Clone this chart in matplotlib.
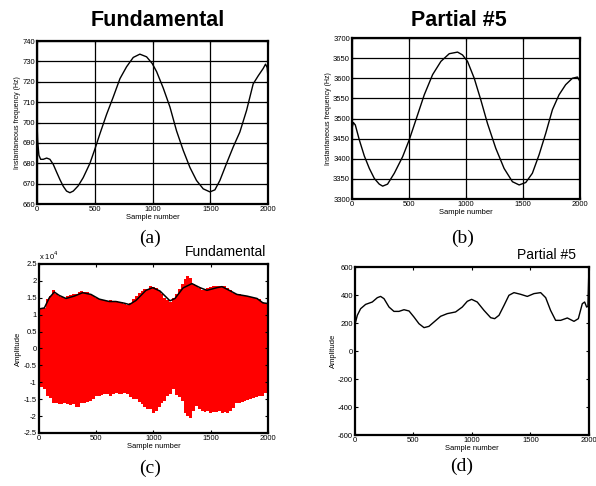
import numpy as np
import matplotlib
matplotlib.use("Agg")
import matplotlib.pyplot as plt

plt.rcParams['font.family'] = ['Liberation Sans', 'DejaVu Sans']
plt.rcParams['axes.unicode_minus'] = False

# (a) fundamental instantaneous frequency
fa_x = [0, 6, 17, 32, 55, 84, 112, 141, 170, 199, 228, 256, 285, 314, 357, 400, 458, 501, 545,
        602, 660, 718, 775, 833, 890, 948, 997, 1035, 1092, 1150, 1207, 1265, 1323, 1380, 1438,
        1496, 1539, 1582, 1640, 1697, 1755, 1813, 1870, 1914, 1957, 1977, 1991, 2000]
fa_y = [701, 691, 684, 682, 682, 682.6, 682, 679.5, 675.7, 672, 668.7, 666.4, 665.6, 666.4, 669,
        673, 680, 687, 694.6, 704, 712.6, 721.6, 727.4, 732, 733.6, 732.3, 729, 725, 717, 707.7,
        696, 686.4, 678, 671.6, 667.5, 666, 667, 671.6, 680, 688, 695.4, 706, 719, 723, 726.6,
        728.7, 727, 721]

# (b) partial #5 instantaneous frequency
fb_x = [0, 12, 29, 64, 108, 152, 196, 239, 269, 312, 371, 444, 502, 561, 634, 707, 780, 853, 926,
        969, 1013, 1072, 1130, 1188, 1261, 1334, 1407, 1466, 1524, 1582, 1641, 1699, 1758, 1816,
        1874, 1933, 1977, 2000]
fb_y = [3476, 3490, 3484, 3447, 3407, 3376, 3351, 3337, 3332, 3337, 3364, 3405, 3447, 3497, 3559,
        3609, 3642, 3661, 3665, 3658, 3642, 3600, 3546, 3488, 3426, 3376, 3343, 3335, 3341, 3364,
        3410, 3463, 3522, 3559, 3584, 3600, 3603, 3592]

# (c) fundamental amplitude (x 1e4): red signal extent every 25 samples, black envelope
sig_x = np.arange(0, 2001, 25)
sig_hi = [1.15, 1.18, 1.2, 1.45, 1.55, 1.72, 1.62, 1.55, 1.52, 1.5, 1.55, 1.58, 1.6, 1.62, 1.68,
          1.7, 1.66, 1.68, 1.62, 1.55, 1.5, 1.46, 1.44, 1.42, 1.4, 1.42, 1.4, 1.4, 1.38, 1.37,
          1.33, 1.3, 1.35, 1.45, 1.55, 1.65, 1.7, 1.75, 1.77, 1.85, 1.82, 1.78, 1.7, 1.6, 1.5,
          1.42, 1.38, 1.5, 1.6, 1.75, 1.9, 2.05, 2.15, 2.1, 1.9, 1.85, 1.78, 1.74, 1.75, 1.8,
          1.82, 1.85, 1.86, 1.84, 1.86, 1.85, 1.8, 1.72, 1.65, 1.62, 1.6, 1.58, 1.56, 1.55, 1.53,
          1.5, 1.48, 1.45, 1.38, 1.35, 1.33]
sig_lo = [-1.1, -1.15, -1.2, -1.42, -1.47, -1.6, -1.62, -1.63, -1.65, -1.62, -1.63, -1.66, -1.65,
          -1.74, -1.72, -1.62, -1.6, -1.57, -1.55, -1.5, -1.42, -1.4, -1.38, -1.36, -1.35, -1.4,
          -1.36, -1.33, -1.36, -1.34, -1.33, -1.35, -1.45, -1.48, -1.5, -1.58, -1.65, -1.72,
          -1.78, -1.8, -1.9, -1.85, -1.72, -1.6, -1.55, -1.42, -1.35, -1.2, -1.38, -1.45, -1.55,
          -1.9, -2.0, -2.07, -1.85, -1.7, -1.8, -1.85, -1.88, -1.85, -1.9, -1.87, -1.88, -1.85,
          -1.9, -1.88, -1.9, -1.85, -1.75, -1.62, -1.6, -1.58, -1.55, -1.53, -1.5, -1.47, -1.45,
          -1.42, -1.4, -1.33, -1.28]
env_x = [0, 47, 90, 134, 177, 236, 308, 381, 454, 527, 614, 672, 745, 789, 847, 934, 993, 1057,
         1144, 1188, 1258, 1336, 1406, 1467, 1555, 1598, 1668, 1729, 1817, 1904, 1956, 2000]
env_y = [1.17, 1.2, 1.5, 1.67, 1.57, 1.48, 1.55, 1.65, 1.6, 1.46, 1.39, 1.39, 1.34, 1.3, 1.42,
         1.72, 1.8, 1.7, 1.41, 1.48, 1.79, 1.92, 1.8, 1.72, 1.8, 1.83, 1.71, 1.6, 1.55, 1.48,
         1.35, 1.33]

# (d) partial #5 amplitude
fd_x = [0, 20, 48, 91, 148, 191, 219, 248, 291, 333, 376, 419, 462, 504, 547, 590, 632, 675, 732,
        789, 860, 917, 960, 997, 1045, 1103, 1160, 1194, 1231, 1274, 1316, 1359, 1416, 1473,
        1530, 1587, 1630, 1672, 1715, 1758, 1815, 1872, 1909, 1943, 1963, 1980, 1991, 2000]
fd_y = [190, 255, 302, 333, 350, 381, 390, 374, 314, 283, 283, 295, 286, 243, 195, 167, 176, 207,
        248, 267, 279, 314, 355, 369, 350, 290, 238, 231, 255, 326, 398, 417, 405, 390, 410, 417,
        381, 290, 219, 219, 236, 212, 231, 338, 350, 314, 319, 600]

xticks = [0, 500, 1000, 1500, 2000]

fig = plt.figure(figsize=(5.96, 4.86), dpi=100)


def style(ax, grid=False):
    ax.set_xlim(0, 2000)
    ax.set_xticks(xticks)
    ax.tick_params(direction='in', top=True, right=True, labelsize=5.5, length=2.5,
                   width=0.8, pad=1.5)
    for s in ax.spines.values():
        s.set_linewidth(1.6)
    if grid:
        ax.grid(True, color='black', linewidth=0.9)
    ax.set_xlabel('Sample number', fontsize=5.5, labelpad=0.5)


ax1 = fig.add_axes([0.062, 0.580, 0.388, 0.3354])
ax1.plot(fa_x, fa_y, color='black', linewidth=1.0)
ax1.set_ylim(660, 740)
ax1.set_yticks(range(660, 741, 10))
style(ax1, grid=True)
ax1.set_ylabel('Instantaneous frequency (Hz)', fontsize=5, labelpad=1)

ax2 = fig.add_axes([0.5906, 0.5905, 0.3826, 0.3313])
ax2.plot(fb_x, fb_y, color='black', linewidth=1.0)
ax2.set_ylim(3300, 3700)
ax2.set_yticks(range(3300, 3701, 50))
style(ax2, grid=True)
ax2.set_ylabel('Instantaneous frequency (Hz)', fontsize=5, labelpad=1)

ax3 = fig.add_axes([0.0654, 0.1091, 0.3842, 0.3477])
ax3.fill_between(sig_x, sig_lo, sig_hi, step='mid', color='red', linewidth=0)
ax3.plot(env_x, env_y, color='black', linewidth=1.1)
ax3.set_ylim(-2.5, 2.5)
ax3.set_yticks(np.arange(-2.5, 2.51, 0.5))
ax3.set_yticklabels(['-2.5', '-2', '-1.5', '-1', '-0.5', '0', '0.5', '1', '1.5', '2', '2.5'])
style(ax3)
ax3.set_ylabel('Amplitude', fontsize=5.5, labelpad=1)
ax3.text(0.0, 1.01, 'x 10$^4$', transform=ax3.transAxes, fontsize=5.5, va='bottom')

ax4 = fig.add_axes([0.5956, 0.1049, 0.3926, 0.3457])
ax4.plot(fd_x, fd_y, color='black', linewidth=1.0)
ax4.set_ylim(-600, 600)
ax4.set_yticks(range(-600, 601, 200))
style(ax4)
ax4.set_ylabel('Amplitude', fontsize=5.5, labelpad=1)

fig.text(0.265, 0.958, 'Fundamental', fontsize=15.5, fontweight='bold', ha='center', va='center')
fig.text(0.770, 0.958, 'Partial #5', fontsize=15.5, fontweight='bold', ha='center', va='center')
fig.text(266 / 596, 1 - 252 / 486, 'Fundamental', fontsize=10, ha='right', va='center')
fig.text(576 / 596, 1 - 255 / 486, 'Partial #5', fontsize=10, ha='right', va='center')

for lab, x, y in [('(a)', 150, 238), ('(b)', 463, 238), ('(c)', 150, 468), ('(d)', 462, 466)]:
    fig.text(x / 596, 1 - y / 486, lab, fontsize=14, family='Liberation Serif',
             ha='center', va='center')

fig.savefig('out.png', dpi=100)
